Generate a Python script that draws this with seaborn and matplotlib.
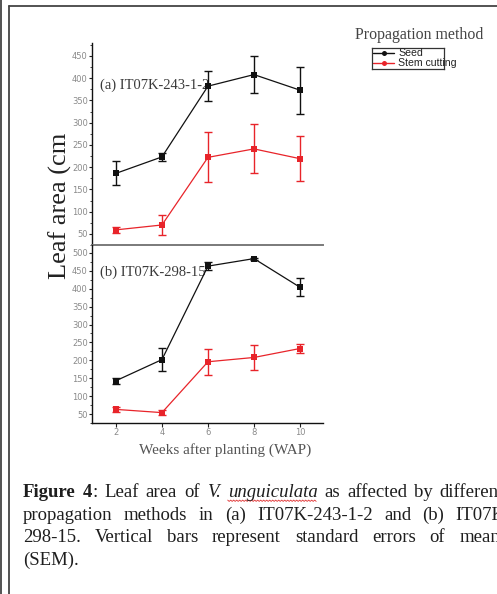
import matplotlib
matplotlib.use("Agg")
import matplotlib.pyplot as plt
import seaborn as sns
import pandas as pd
import numpy as np
from matplotlib.lines import Line2D
from matplotlib.ticker import MultipleLocator

# ---------------- data ----------------
weeks = [2, 4, 6, 8, 10]
methods = ["Seed", "Stem cutting"]
a_seed = [186, 223, 382, 408, 373]
a_seed_sem = [27, 9, 33, 41, 53]
a_stem = [59, 70, 222, 241, 219]
a_stem_sem = [6, 22, 56, 55, 51]
b_seed = [143, 202, 463, 484, 404]
b_seed_sem = [8, 32, 12, 3, 25]
b_stem = [63, 54, 196, 208, 233]
b_stem_sem = [8, 6, 37, 36, 13]
panel_labels = ["(a) IT07K-243-1-2", "(b) IT07K-298-15"]
x_ticks = [2, 4, 6, 8, 10]
y_label = "Leaf area (cm"
x_label = "Weeks after planting (WAP)"
legend_title = "Propagation method"

caption = [
    [[("Figure", "b")], [("4", "b"), (":", "n")], [("Leaf", "n")], [("area", "n")], [("of", "n")],
     [("V.", "i")], [("unguiculata", "i")], [("as", "n")], [("affected", "n")], [("by", "n")],
     [("different", "n")]],
    [[("propagation", "n")], [("methods", "n")], [("in", "n")], [("(a)", "n")], [("IT07K-243-1-2", "n")],
     [("and", "n")], [("(b)", "n")], [("IT07K-", "n")]],
    [[("298-15.", "n")], [("Vertical", "n")], [("bars", "n")], [("represent", "n")], [("standard", "n")],
     [("errors", "n")], [("of", "n")], [("mean", "n")]],
    [[("(SEM).", "n")]],
]

# ---------------- setup ----------------
sns.set_theme(style="white")
plt.rcParams["font.family"] = ["DejaVu Sans"]
SERIF = ["Liberation Serif", "DejaVu Serif"]
SANS = ["Liberation Sans", "DejaVu Sans"]

W, H = 497, 594
fig = plt.figure(figsize=(W / 100, H / 100), dpi=100)
fig.patch.set_facecolor("white")


def fx(x):
    return x / W


def fy(y):
    return 1 - y / H


colors = {"Seed": "#111111", "Stem cutting": "#e8242a"}


def make_df(seed, seed_sem, stem, stem_sem):
    return pd.DataFrame({
        "week": weeks + weeks,
        "area": seed + stem,
        "sem": seed_sem + stem_sem,
        "method": [methods[0]] * len(weeks) + [methods[1]] * len(weeks),
    })


def draw(ax, df):
    sns.lineplot(data=df, x="week", y="area", hue="method", palette=colors,
                 marker="s", markersize=4.0, markeredgewidth=0, linewidth=0.9,
                 legend=False, ax=ax, zorder=3)
    for m in methods:
        sub = df[df["method"] == m]
        ax.errorbar(sub["week"], sub["area"], yerr=sub["sem"], fmt="none",
                    ecolor=colors[m], elinewidth=1.0, capsize=2.6, capthick=1.0, zorder=3)


axa = fig.add_axes([fx(92), fy(245), fx(323) - fx(92), fy(43) - fy(245)])
axb = fig.add_axes([fx(92), fy(423), fx(323) - fx(92), fy(245) - fy(423)])

draw(axa, make_df(a_seed, a_seed_sem, a_stem, a_stem_sem))
draw(axb, make_df(b_seed, b_seed_sem, b_stem, b_stem_sem))

axa.set_xlim(0.96, 11.0)
axb.set_xlim(0.96, 11.0)
axa.set_ylim(25, 479)
axb.set_ylim(25, 522)

for ax in (axa, axb):
    ax.set_facecolor("none")
    ax.set_xlabel("")
    ax.set_ylabel("")
    ax.spines["top"].set_visible(False)
    ax.spines["right"].set_visible(False)
    ax.spines["left"].set_color("#111111")
    ax.spines["left"].set_linewidth(1.0)
    ax.yaxis.set_major_locator(MultipleLocator(50))
    ax.yaxis.set_minor_locator(MultipleLocator(25))
    ax.tick_params(axis="y", which="major", direction="out", length=2.5, width=0.8,
                   pad=0.5, labelsize=6, labelcolor="#8a8a8a", color="#222222", left=True)
    ax.tick_params(axis="y", which="minor", direction="out", length=1.5, width=0.6,
                   color="#222222", left=True)

axa.set_xticks([])
axa.spines["bottom"].set_color("#7a7a7a")
axa.spines["bottom"].set_linewidth(1.4)

axb.set_xticks(x_ticks)
axb.set_xticklabels([str(t) for t in x_ticks])
axb.spines["bottom"].set_color("#111111")
axb.spines["bottom"].set_linewidth(1.0)
axb.tick_params(axis="x", which="major", direction="out", length=3, width=0.8, pad=0.5,
                labelsize=6, labelcolor="#8a8a8a", color="#222222", bottom=True)

# panel labels (under the lines)
axa.text(fx(100.5), fy(89.3), panel_labels[0], transform=fig.transFigure, family=SERIF,
         size=10.5, color="#3a3a3a", va="baseline", ha="left", zorder=1)
axb.text(fx(100.5), fy(276), panel_labels[1], transform=fig.transFigure, family=SERIF,
         size=10.5, color="#3a3a3a", va="baseline", ha="left", zorder=1)

# axis labels
fig.text(fx(67), fy(206), y_label, rotation=90, rotation_mode="anchor", ha="center",
         va="baseline", family=SERIF, size=19, color="#222222")
fig.text(fx(225.5), fy(454), x_label, ha="center", va="baseline", family=SERIF,
         size=11, color="#555555")

# legend
fig.text(fx(419), fy(39), legend_title, ha="center", va="baseline", family=SERIF,
         size=11.4, color="#444444")
lax = fig.add_axes([fx(372), fy(69.3), fx(444) - fx(372), fy(48.3) - fy(69.3)])
lax.set_xlim(372, 444)
lax.set_ylim(69.3, 48.3)
lax.set_xticks([])
lax.set_yticks([])
lax.set_facecolor("none")
for s in lax.spines.values():
    s.set_visible(True)
    s.set_color("#333333")
    s.set_linewidth(0.9)
for m, yy in zip(methods, [53.3, 63.3]):
    lax.add_line(Line2D([373, 394], [yy, yy], color=colors[m], lw=1.0))
    lax.add_line(Line2D([383.5], [yy], color=colors[m], marker="o", ms=3.6, mew=0, lw=0))
    lax.text(398, yy, m, va="center", ha="left", family=SANS, size=7.6,
             color="#222222", clip_on=False)

# frame of the document
fig.add_artist(Line2D([fx(1), fx(1)], [0, 1], color="#444444", lw=1.3))
fig.add_artist(Line2D([fx(9), fx(9)], [0, fy(5.5)], color="#444444", lw=1.3))
fig.add_artist(Line2D([fx(9), 1], [fy(5.5), fy(5.5)], color="#444444", lw=1.3))

# caption (justified lines, running past the right edge like the reference)
r = fig.canvas.get_renderer()
FS = 13.5


def put_line(words, base_y, x0, x1=None):
    items = []
    for word in words:
        pieces = []
        for txt, st in word:
            t = fig.text(0, fy(base_y), txt, family=SERIF, size=FS, color="#1e1e1e",
                         va="baseline", ha="left",
                         weight="bold" if st == "b" else "normal",
                         style="italic" if st == "i" else "normal")
            pieces.append(t)
        items.append(pieces)
    widths = [[p.get_window_extent(r).width for p in w] for w in items]
    total = sum(sum(w) for w in widths)
    n = len(items)
    space = (x1 - x0 - total) / (n - 1) if (x1 is not None and n > 1) else 4.5
    x = x0
    spans = []
    for pieces, ws in zip(items, widths):
        start = x
        for p, w in zip(pieces, ws):
            p.set_x(fx(x))
            x += w
        spans.append((start, x))
        x += space
    return spans


base = [497, 519.5, 542, 565]
rights = [504, 512, 500, None]
spans0 = None
for i, (words, by, rx) in enumerate(zip(caption, base, rights)):
    sp = put_line(words, by, 23, rx)
    if i == 0:
        spans0 = sp

# red spell-check squiggle under "unguiculata"
xs0, xs1 = spans0[6]
zx = np.arange(xs0, xs1, 1.5)
zy = np.array([500.5 + (0.9 if k % 2 else -0.4) for k in range(len(zx))])
fig.add_artist(Line2D(fx(zx), fy(zy), color="#e03030", lw=0.6))

fig.savefig("out.png", dpi=100)
